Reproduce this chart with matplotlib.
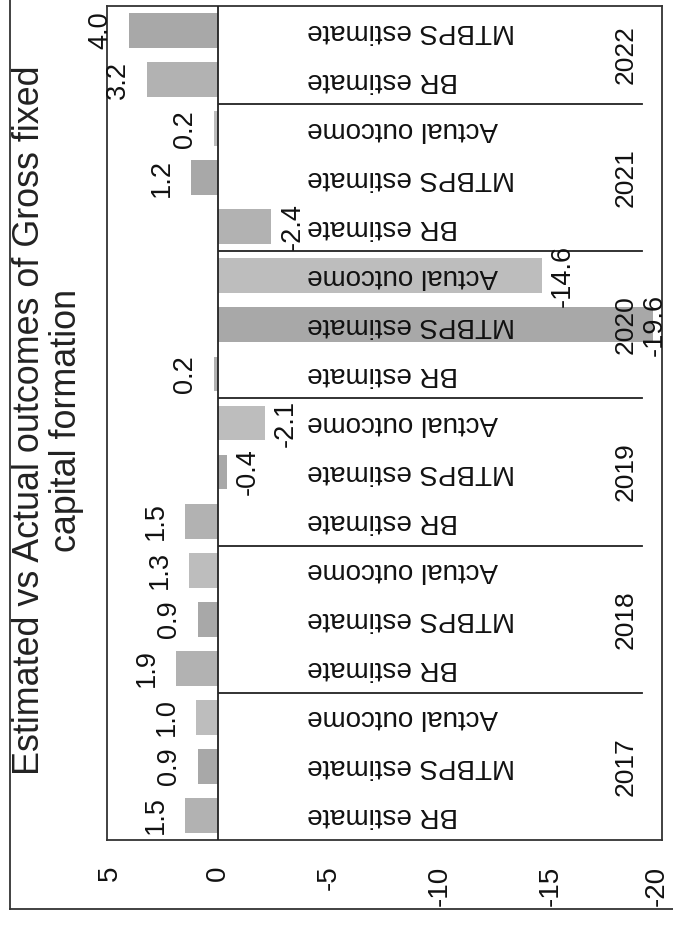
import matplotlib
matplotlib.use("Agg")
import matplotlib.pyplot as plt
import matplotlib.transforms as mtransforms
from matplotlib.lines import Line2D

plt.rcParams["font.family"] = ["Liberation Sans", "DejaVu Sans"]

# ---- data -------------------------------------------------------------
years = ["2017", "2018", "2019", "2020", "2021", "2022"]
series = ["BR estimate", "MTBPS estimate", "Actual outcome"]
br_estimate = [1.5, 1.9, 1.5, 0.2, -2.4, 3.2]
mtbps_estimate = [0.9, 0.9, -0.4, -19.6, 1.2, 4.0]
actual_outcome = [1.0, 1.3, -2.1, -14.6, 0.2, None]
tick_values = [5, 0, -5, -10, -15, -20]
tick_labels = ["5", "0", "-5", "-10", "-15", "-20"]
title = "Estimated vs Actual outcomes of Gross fixed\ncapital formation"

colors = {"BR estimate": "#b2b2b2",
          "MTBPS estimate": "#a8a8a8",
          "Actual outcome": "#bdbdbd"}

# flatten into one row per bar, grouped by year
rows = []
group_sizes = []
for gi, yr in enumerate(years):
    n = 0
    for s, vals in zip(series, [br_estimate, mtbps_estimate, actual_outcome]):
        v = vals[gi]
        if v is None:
            continue
        rows.append((yr, s, v))
        n += 1
    group_sizes.append(n)

W, H = 673, 926
fig = plt.figure(figsize=(W / 100, H / 100), dpi=100)
fig.patch.set_facecolor("white")

# outer chart border (partly outside the canvas)
fig.add_artist(Line2D([10 / W, 10 / W], [1.0, 1 - 909 / H], transform=fig.transFigure,
                      color="#333333", lw=1.3))
fig.add_artist(Line2D([10 / W, 1.0], [1 - 909 / H, 1 - 909 / H], transform=fig.transFigure,
                      color="#333333", lw=1.3))

ax = fig.add_axes([107 / W, 1 - 840 / H, 555 / W, 834 / H])
pos = list(range(len(rows)))
vals = [r[2] for r in rows]
ax.barh(pos, vals, height=0.71, color=[colors[r[1]] for r in rows], zorder=2)

ax.set_xlim(5, -20)
ax.set_ylim(-0.5, len(rows) - 0.5)
ax.set_xticks(tick_values)
ax.set_xticklabels(tick_labels, rotation=90, fontsize=20)
ax.tick_params(axis="x", length=0, pad=18.5, colors="#111111")
ax.set_yticks([])
for sp in ax.spines.values():
    sp.set_color("#333333")
    sp.set_linewidth(1.3)

# keep the outermost tick labels inside the canvas
edge_shift = {0: 3, len(tick_values) - 1: -5}
for k, lab in enumerate(ax.get_xticklabels()):
    if k in edge_shift:
        lab.set_transform(lab.get_transform() + mtransforms.ScaledTranslation(
            edge_shift[k] / 100, 0, fig.dpi_scale_trans))

ax.axvline(0, color="#222222", lw=1.3, zorder=3)

# group separators of the category axis
x0 = (219 - 107) / 555
x1 = (642 - 107) / 555
edge = -0.5
for n in group_sizes[:-1]:
    edge += n
    ax.axhline(edge, xmin=x0, xmax=x1, color="#222222", lw=1.3, zorder=3)

blend = mtransforms.blended_transform_factory(ax.transAxes, ax.transData)

# category labels
for i, (yr, s, v) in enumerate(rows):
    ax.text(0.36, i, s, transform=blend, rotation=180, ha="left", va="center",
            fontsize=20, color="#111111", zorder=4)

# year labels
start = 0
for yr, n in zip(years, group_sizes):
    center = start + (n - 1) / 2
    ax.text(0.935, center, yr, transform=blend, rotation=90, ha="center",
            va="center", fontsize=19, color="#111111", zorder=4)
    start += n

# value labels at the bar ends
for i, (yr, s, v) in enumerate(rows):
    end_px = ax.transData.transform((v, i))[0]
    if v >= 0:
        dx_px = -29
    else:
        dx_px = 21
        dx_px = min(dx_px, 655 - end_px)
    ax.annotate(f"{v:.1f}", xy=(v, i), xytext=(dx_px * 0.72, 0),
                textcoords="offset points", rotation=90, ha="center", va="center",
                fontsize=19.5, color="#111111", zorder=5, annotation_clip=False)

fig.text(48 / W, 1 - 420 / H, title, rotation=90, ha="center", va="center",
         multialignment="center", fontsize=25.8, linespacing=1.05, color="#222222")

fig.savefig("out.png", dpi=100)
